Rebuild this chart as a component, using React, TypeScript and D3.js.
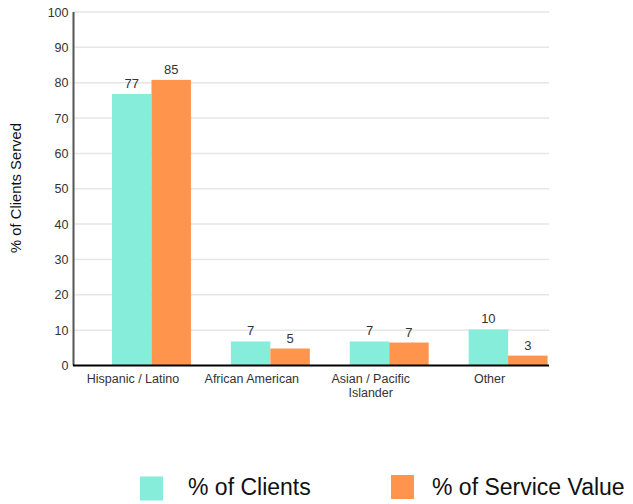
import React from "react";
import * as d3 from "d3";

const categories = ["Hispanic / Latino", "African American", "Asian / Pacific Islander", "Other"];
const categoryLines = [["Hispanic / Latino"], ["African American"], ["Asian / Pacific", "Islander"], ["Other"]];
const seriesNames = ["% of Clients", "% of Service Value"];
const clientsValues = [76.8, 6.8, 6.8, 10.2];
const serviceValues = [80.8, 4.8, 6.5, 2.8];
const clientsLabels = ["77", "7", "7", "10"];
const serviceLabels = ["85", "5", "7", "3"];
const yTicks = [0, 10, 20, 30, 40, 50, 60, 70, 80, 90, 100];
const colors = ["#86EDDB", "#FF944C"];

const W = 633;
const H = 504;
const left = 73.5;
const right = 549;
const top = 12;
const bottom = 365.5;
const font = "Arial, 'Liberation Sans', sans-serif";

export default function App() {
  const x0 = d3.scaleBand<string>().domain(categories).range([left, right]).padding(0);
  const y = d3.scaleLinear().domain([0, 100]).range([bottom, top]);
  const bw = x0.bandwidth();
  const x1 = d3
    .scaleBand<string>()
    .domain(seriesNames)
    .range([bw * 0.324, bw * 0.988])
    .padding(0);
  const series = [
    { name: seriesNames[0], values: clientsValues, labels: clientsLabels, color: colors[0] },
    { name: seriesNames[1], values: serviceValues, labels: serviceLabels, color: colors[1] },
  ];
  const legendPos = [
    { sx: 140, sy: 476.5, tx: 188 },
    { sx: 391, sy: 475, tx: 432 },
  ];
  return (
    <svg width={W} height={H} style={{ position: "absolute", left: 0, top: 0 }}>
      <rect x={0} y={0} width={W} height={H} fill="#fff" />
      {yTicks.map((t) => (
        <g key={t}>
          {t > 0 && (
            <line x1={left} x2={right} y1={y(t)} y2={y(t)} stroke="#e6e6e6" strokeWidth={1.5} />
          )}
          <text
            x={68.5}
            y={y(t)}
            dy="0.36em"
            textAnchor="end"
            fontFamily={font}
            fontSize={12.5}
            fill="#333"
          >
            {t}
          </text>
        </g>
      ))}
      {series.map((s) =>
        categories.map((c, i) => {
          const bx = (x0(c) ?? 0) + (x1(s.name) ?? 0);
          const by = y(s.values[i]);
          return (
            <g key={s.name + c}>
              <rect x={bx} y={by} width={x1.bandwidth()} height={bottom - by} fill={s.color} />
              <text
                x={bx + x1.bandwidth() / 2}
                y={by - 6}
                textAnchor="middle"
                fontFamily={font}
                fontSize={13}
                fill="#333"
              >
                {s.labels[i]}
              </text>
            </g>
          );
        })
      )}
      <line x1={left} x2={left} y1={top} y2={bottom} stroke="#555" strokeWidth={2} />
      <line x1={left - 0.5} x2={right} y1={bottom} y2={bottom} stroke="#000" strokeWidth={2} />
      {categories.map((c, i) => (
        <text
          key={c}
          x={(x0(c) ?? 0) + bw / 2}
          y={383}
          textAnchor="middle"
          fontFamily={font}
          fontSize={12.5}
          fill="#333"
        >
          {categoryLines[i].map((ln, j) => (
            <tspan key={j} x={(x0(c) ?? 0) + bw / 2} dy={j === 0 ? 0 : 14}>
              {ln}
            </tspan>
          ))}
        </text>
      ))}
      <text
        transform={`translate(21,188) rotate(-90)`}
        textAnchor="middle"
        fontFamily={font}
        fontSize={14.8}
        fill="#111"
      >
        % of Clients Served
      </text>
      {seriesNames.map((n, i) => (
        <g key={n}>
          <rect x={legendPos[i].sx} y={legendPos[i].sy} width={23} height={24} fill={colors[i]} />
          <text x={legendPos[i].tx} y={495} fontFamily={font} fontSize={23} fill="#111">
            {n}
          </text>
        </g>
      ))}
    </svg>
  );
}
